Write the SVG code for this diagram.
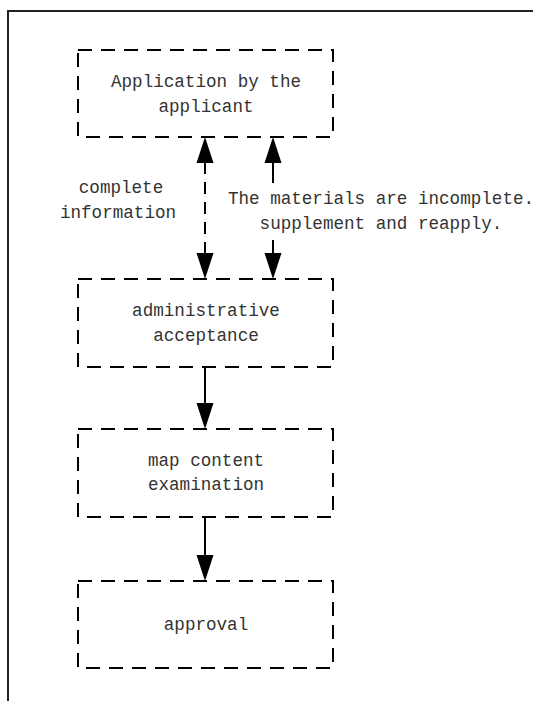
<svg xmlns="http://www.w3.org/2000/svg" width="533" height="701" viewBox="0 0 533 701">
<style>
.box{fill:none;stroke:#000;stroke-width:2;stroke-dasharray:14 9}
.t{font-family:"Liberation Mono","Courier New",monospace;font-size:17.6px;fill:#333;text-anchor:middle}
.dash{stroke:#000;stroke-width:2;stroke-dasharray:12 8;fill:none}
.solid{stroke:#000;stroke-width:2;fill:none}
.head{fill:#000}
</style>
<rect x="0" y="0" width="533" height="701" fill="#fff"/>
<rect id="frame" x="8" y="11" width="600" height="800" fill="none" stroke="#222" stroke-width="2"/>
<g id="n1">
<rect class="box" x="78" y="50" width="255" height="87"/>
<text class="t" x="206" y="87">Application by the</text>
<text class="t" x="206" y="112">applicant</text>
</g>
<g id="n2">
<rect class="box" x="78" y="279" width="255" height="88"/>
<text class="t" x="206" y="316">administrative</text>
<text class="t" x="206" y="341">acceptance</text>
</g>
<g id="n3">
<rect class="box" x="78" y="429" width="255" height="88"/>
<text class="t" x="206" y="466">map content</text>
<text class="t" x="206" y="490">examination</text>
</g>
<g id="n4">
<rect class="box" x="78" y="581" width="255" height="87"/>
<text class="t" x="206" y="630">approval</text>
</g>
<g id="connectors">
<line class="dash" x1="205" y1="162" x2="205" y2="254"/>
<polygon class="head" points="205,137 213.5,163 196.5,163"/>
<polygon class="head" points="205,279 213.5,253 196.5,253"/>
<line class="solid" x1="273" y1="162" x2="273" y2="183"/>
<line class="solid" x1="273" y1="240" x2="273" y2="254"/>
<polygon class="head" points="273,137 281.5,163 264.5,163"/>
<polygon class="head" points="273,279 281.5,253 264.5,253"/>
<line class="solid" x1="205" y1="367" x2="205" y2="404"/>
<polygon class="head" points="205,429 213.5,403 196.5,403"/>
<line class="solid" x1="205" y1="517" x2="205" y2="556"/>
<polygon class="head" points="205,581 213.5,555 196.5,555"/>
</g>
<g id="labels">
<text class="t" x="121" y="193">complete</text>
<text class="t" x="118" y="218">information</text>
<text class="t" x="381" y="204">The materials are incomplete.</text>
<text class="t" x="381" y="229">supplement and reapply.</text>
</g>
</svg>
